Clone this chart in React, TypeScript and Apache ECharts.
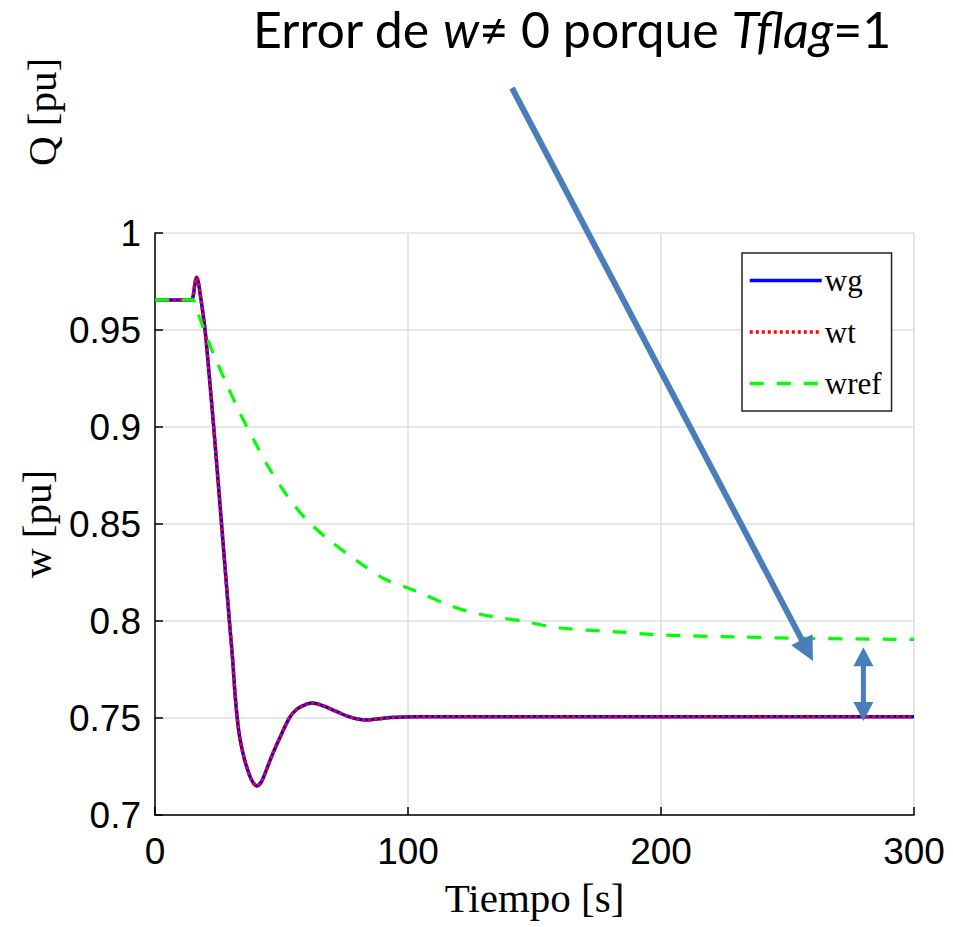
import React, { useEffect, useRef } from "react";
import * as echarts from "echarts";

// Time axis [s] and speeds [pu]
const wgTime = [0, 14.3, 15, 15.7, 16.4, 17, 17.8, 18.8, 19.8, 21, 23.2, 26.3, 29.4, 30.7, 31.6, 32.5, 33.3, 34.2, 35.2, 36.2, 38, 40.2, 42, 44.1, 46.5, 49.4, 53.1, 56, 58.6, 61.9, 66, 71.8, 76, 80, 84, 88, 93, 103, 150, 200, 250, 300];
const wgValues = [0.9655, 0.9655, 0.967, 0.973, 0.9772, 0.9755, 0.969, 0.96, 0.95, 0.933, 0.9, 0.85, 0.8, 0.78, 0.7627, 0.75, 0.7415, 0.7353, 0.7295, 0.725, 0.7185, 0.715, 0.717, 0.7235, 0.7315, 0.74, 0.75, 0.7545, 0.7564, 0.7577, 0.7565, 0.7533, 0.751, 0.7495, 0.749, 0.7495, 0.7502, 0.7507, 0.7507, 0.7507, 0.7507, 0.7507];
const wtValues = [0.9655, 0.9655, 0.967, 0.973, 0.9772, 0.9755, 0.969, 0.96, 0.95, 0.933, 0.9, 0.85, 0.8, 0.78, 0.7627, 0.75, 0.7415, 0.7353, 0.7295, 0.725, 0.7185, 0.715, 0.717, 0.7235, 0.7315, 0.74, 0.75, 0.7545, 0.7564, 0.7577, 0.7565, 0.7533, 0.751, 0.7495, 0.749, 0.7495, 0.7502, 0.7507, 0.7507, 0.7507, 0.7507, 0.7507];
const wrefTime = [0, 15, 16, 18, 20, 23, 28, 34, 40, 45, 52, 60, 70, 82, 91, 100, 105, 115, 125, 137, 145, 160, 184, 200, 230, 260, 300];
const wrefValues = [0.9655, 0.9655, 0.962, 0.955, 0.948, 0.938, 0.923, 0.906, 0.891, 0.879, 0.865, 0.852, 0.8405, 0.829, 0.8215, 0.817, 0.8144, 0.8088, 0.8045, 0.8015, 0.8, 0.7964, 0.7943, 0.7928, 0.7918, 0.791, 0.7905];

const seriesNames = ["wg", "wt", "wref"];
const xAxisName = "Tiempo [s]";
const yAxisName = "w [pu]";
const upperAxisName = "Q [pu]";

const ARROW = "#4a7ebb";

function head(tip: number[], from: number[], len: number, half: number) {
  const dx = tip[0] - from[0];
  const dy = tip[1] - from[1];
  const L = Math.hypot(dx, dy);
  const ux = dx / L, uy = dy / L;
  const bx = tip[0] - ux * len, by = tip[1] - uy * len;
  const px = -uy, py = ux;
  return {
    points: [
      [tip[0], tip[1]],
      [bx + px * half, by + py * half],
      [bx - px * half, by - py * half],
    ],
    base: [tip[0] - ux * (len - 4), tip[1] - uy * (len - 4)],
  };
}

export default function App() {
  const ref = useRef<HTMLDivElement>(null);
  useEffect(() => {
    if (!ref.current) return;
    const chart = echarts.init(ref.current, null, { renderer: "svg" });
    const pair = (ts: number[], vs: number[]) => ts.map((t, i) => [t, vs[i]]);
    chart.setOption({
      animation: false,
      backgroundColor: "#ffffff",
      grid: { left: 155, top: 233, right: 39, bottom: 112, containLabel: false },
      xAxis: {
        type: "value",
        min: 0,
        max: 300,
        interval: 100,
        name: xAxisName,
        nameLocation: "middle",
        nameGap: 62,
        nameTextStyle: { fontFamily: "Liberation Serif", fontSize: 41, color: "#000" },
        axisLine: { onZero: false, lineStyle: { color: "#000", width: 1.5 } },
        axisTick: { inside: true, length: 8, lineStyle: { color: "#000", width: 1.5 } },
        axisLabel: { fontFamily: "Liberation Sans", fontSize: 37, color: "#000", margin: 18 },
        splitLine: { show: true, lineStyle: { color: "#dedede", width: 1.5 } },
      },
      yAxis: {
        type: "value",
        min: 0.7,
        max: 1,
        interval: 0.05,
        name: yAxisName,
        nameLocation: "middle",
        nameGap: 98,
        nameTextStyle: { fontFamily: "Liberation Serif", fontSize: 41, color: "#000" },
        axisLine: { show: true, onZero: false, lineStyle: { color: "#000", width: 1.5 } },
        axisTick: { show: true, inside: true, length: 8, lineStyle: { color: "#000", width: 1.5 } },
        axisLabel: {
          fontFamily: "Liberation Sans",
          fontSize: 37,
          color: "#000",
          margin: 14,
          formatter: (v: number) => String(parseFloat(v.toFixed(2))),
        },
        splitLine: { show: true, lineStyle: { color: "#dedede", width: 1.5 } },
      },
      legend: {
        orient: "vertical",
        left: 742,
        top: 253,
        padding: [12, 10, 12, 6],
        itemWidth: 72,
        itemHeight: 20,
        itemGap: 20.5,
        backgroundColor: "#fff",
        borderColor: "#222",
        borderWidth: 1.5,
        borderRadius: 0,
        data: seriesNames,
        itemStyle: { opacity: 0 },
        lineStyle: { width: 3.5 },
        textStyle: { fontFamily: "Liberation Serif", fontSize: 31, color: "#000", padding: [0, 0, 0, -2] },
      },
      series: [
        {
          name: seriesNames[0],
          type: "line",
          data: pair(wgTime, wgValues),
          showSymbol: false,
          symbol: "none",
          smooth: 0.3,
          lineStyle: { color: "#0000ff", width: 3.5, type: "solid" },
          itemStyle: { color: "#0000ff" },
          z: 2,
        },
        {
          name: seriesNames[1],
          type: "line",
          data: pair(wgTime, wtValues),
          showSymbol: false,
          symbol: "none",
          smooth: 0.3,
          lineStyle: { color: "#ff0000", width: 3.5, type: [3, 3] },
          itemStyle: { color: "#ff0000" },
          z: 3,
        },
        {
          name: seriesNames[2],
          type: "line",
          data: pair(wrefTime, wrefValues),
          showSymbol: false,
          symbol: "none",
          smooth: 0.3,
          lineStyle: { color: "#00ff00", width: 3.2, type: [14, 13] },
          itemStyle: { color: "#00ff00" },
          z: 4,
        },
      ],
    });

    // annotation arrows
    const dStart = [512, 88];
    const dTip = [813, 661];
    const dHead = head(dTip, dStart, 24, 12);
    const top = chart.convertToPixel({ gridIndex: 0 }, [280, 0.7865]) as number[];
    const bot = chart.convertToPixel({ gridIndex: 0 }, [280, 0.7485]) as number[];
    const hTop = head(top, bot, 19, 10);
    const hBot = head(bot, top, 19, 10);

    chart.setOption({
      graphic: [
        {
          type: "text",
          left: 253,
          top: 4,
          z: 100,
          style: {
            text: "{a|Error de }{i|w}{a|≠ 0 porque }{i|Tflag}{a|=1}",
            rich: {
              a: { fontFamily: "Lato", fontSize: 50, fill: "#000" },
              i: { fontFamily: "Lato", fontStyle: "italic", fontSize: 50, fill: "#000" },
            },
          },
        },
        {
          type: "text",
          x: 42,
          y: 112,
          rotation: Math.PI / 2,
          z: 100,
          style: {
            text: upperAxisName,
            fontFamily: "Liberation Serif",
            fontSize: 41,
            fill: "#000",
            align: "center",
            verticalAlign: "middle",
          },
        },
        {
          type: "line",
          z: 100,
          shape: { x1: dStart[0], y1: dStart[1], x2: dHead.base[0], y2: dHead.base[1] },
          style: { stroke: ARROW, lineWidth: 6 },
        },
        { type: "polygon", z: 100, shape: { points: dHead.points }, style: { fill: ARROW } },
        {
          type: "line",
          z: 100,
          shape: { x1: hTop.base[0], y1: hTop.base[1], x2: hBot.base[0], y2: hBot.base[1] },
          style: { stroke: ARROW, lineWidth: 5 },
        },
        { type: "polygon", z: 100, shape: { points: hTop.points }, style: { fill: ARROW } },
        { type: "polygon", z: 100, shape: { points: hBot.points }, style: { fill: ARROW } },
      ],
    });
    return () => chart.dispose();
  }, []);
  return (
    <div
      ref={ref}
      style={{ position: "fixed", left: 0, top: 0, width: 953, height: 927, background: "#fff" }}
    />
  );
}
